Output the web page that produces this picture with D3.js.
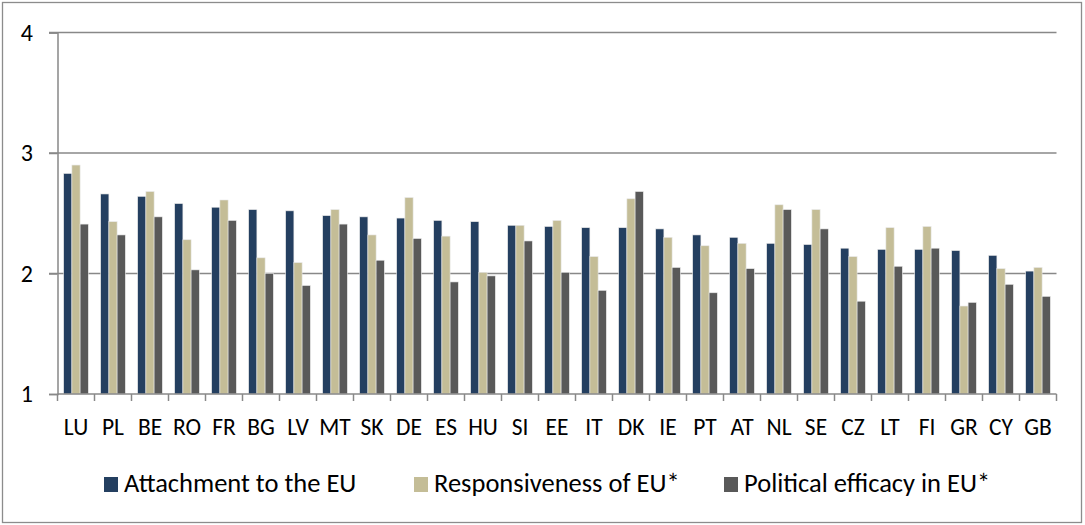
<!DOCTYPE html>
<html>
<head>
<meta charset="utf-8">
<script src="https://cdn.jsdelivr.net/npm/d3@7"></script>
<style>
  html, body { margin: 0; padding: 0; background: #fff; }
  svg { display: block; }
  text { font-family: Carlito, Calibri, Lato, "Liberation Sans", sans-serif; fill: #000; }
</style>
</head>
<body>
<svg id="chart" width="1085" height="525"></svg>
<script>
const categories = ["LU","PL","BE","RO","FR","BG","LV","MT","SK","DE","ES","HU","SI","EE","IT","DK","IE","PT","AT","NL","SE","CZ","LT","FI","GR","CY","GB"];
const seriesNames = ["Attachment to the EU", "Responsiveness of EU*", "Political efficacy in EU*"];
const attachment     = [2.83,2.66,2.64,2.58,2.55,2.53,2.52,2.48,2.47,2.46,2.44,2.43,2.40,2.39,2.38,2.38,2.37,2.32,2.30,2.25,2.24,2.21,2.20,2.20,2.19,2.15,2.02];
const responsiveness = [2.90,2.43,2.68,2.28,2.61,2.13,2.09,2.53,2.32,2.63,2.31,2.01,2.40,2.44,2.14,2.62,2.30,2.23,2.25,2.57,2.53,2.14,2.38,2.39,1.73,2.04,2.05];
const efficacy       = [2.41,2.32,2.47,2.03,2.44,2.00,1.90,2.41,2.11,2.29,1.93,1.98,2.27,2.01,1.86,2.68,2.05,1.84,2.04,2.53,2.37,1.77,2.06,2.21,1.76,1.91,1.81];
const yTicks = [1, 2, 3, 4];
const colors = ["#243F60", "#C4BD97", "#595959"];

(function () {
const series = [attachment, responsiveness, efficacy];
const svg = d3.select("#chart");

// outer frame
svg.append("rect").attr("x", 2.5).attr("y", 2.5).attr("width", 1079).attr("height", 520)
  .attr("fill", "none").attr("stroke", "#8c8c8c").attr("stroke-width", 1.3);

const mLeft = 57.5, mRight = 1056.5, mTop = 32.5, mBottom = 394;

const x = d3.scaleBand().domain(categories).range([mLeft, mRight]).paddingInner(0.335).paddingOuter(0.1675);
const xs = d3.scaleBand().domain(d3.range(series.length)).range([0, x.bandwidth()]);
const y = d3.scaleLinear().domain([1, 4]).range([mBottom, mTop]);

// gridlines
svg.append("g").selectAll("line").data(yTicks.filter(d => d > 1)).join("line")
  .attr("x1", mLeft - 8.5).attr("x2", mRight).attr("y1", d => y(d)).attr("y2", d => y(d))
  .attr("stroke", "#888").attr("stroke-width", 1.5);

// y axis
const yAxis = d3.axisLeft(y).tickValues(yTicks).tickSize(8.5).tickPadding(16).tickFormat(d3.format("d"));
const gy = svg.append("g").attr("transform", `translate(${mLeft},0)`).call(yAxis);
gy.select(".domain").attr("stroke", "#888").attr("stroke-width", 1.5);
gy.selectAll(".tick line").attr("stroke", "#888").attr("stroke-width", 1.5);
gy.selectAll(".tick text").style("font-size", "24px").style("font-family", "Carlito, Calibri, Lato, sans-serif").attr("fill", "#000");

// bars
const groups = svg.append("g").selectAll("g").data(categories).join("g")
  .attr("transform", d => `translate(${x(d)},0)`);
groups.selectAll("rect").data((c, i) => series.map((s, k) => ({k, v: s[i]}))).join("rect")
  .attr("x", d => xs(d.k)).attr("width", xs.bandwidth())
  .attr("y", d => y(d.v)).attr("height", d => y(1) - y(d.v))
  .attr("fill", d => colors[d.k])
  .attr("stroke", "#e8e8e8").attr("stroke-width", 0.6);

// x axis
const xAxis = d3.axisBottom(x).tickSize(0).tickPadding(24);
const gx = svg.append("g").attr("transform", `translate(0,${mBottom})`).call(xAxis);
gx.select(".domain").remove();
gx.selectAll(".tick text").style("font-size", "23.5px").style("font-family", "Carlito, Calibri, Lato, sans-serif").attr("fill", "#000");
// category boundary ticks
const bounds = d3.range(categories.length + 1).map(i => mLeft + i * x.step());
svg.append("line").attr("x1", mLeft).attr("x2", mRight).attr("y1", mBottom).attr("y2", mBottom)
  .attr("stroke", "#888").attr("stroke-width", 1.5);
svg.append("g").selectAll("line").data(bounds).join("line")
  .attr("x1", d => d).attr("x2", d => d).attr("y1", mBottom).attr("y2", mBottom + 7)
  .attr("stroke", "#888").attr("stroke-width", 1.5);

// legend
const legendX = [104, 414, 724];
const lg = svg.append("g").selectAll("g").data(seriesNames).join("g")
  .attr("transform", (d, i) => `translate(${legendX[i]},477)`);
lg.append("rect").attr("width", 14).attr("height", 15).attr("fill", (d, i) => colors[i]);
lg.append("text").attr("x", 20).attr("y", 15).text(d => d)
  .style("font-size", "26.5px");
})();
</script>
</body>
</html>
